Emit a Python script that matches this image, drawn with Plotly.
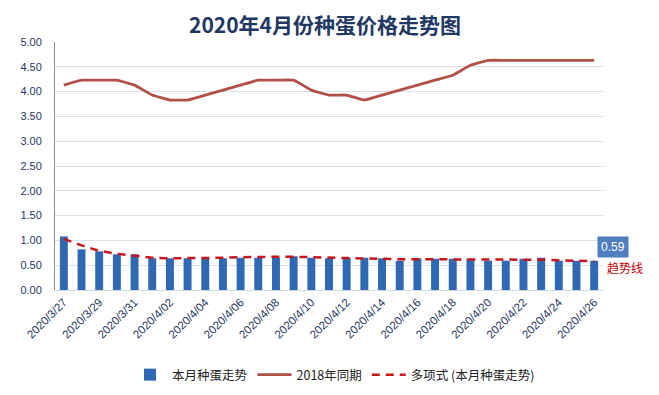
import plotly.graph_objects as go

dates = ["2020/3/27", "2020/3/28", "2020/3/29", "2020/3/30", "2020/3/31",
         "2020/4/01", "2020/4/02", "2020/4/03", "2020/4/04", "2020/4/05",
         "2020/4/06", "2020/4/07", "2020/4/08", "2020/4/09", "2020/4/10",
         "2020/4/11", "2020/4/12", "2020/4/13", "2020/4/14", "2020/4/15",
         "2020/4/16", "2020/4/17", "2020/4/18", "2020/4/19", "2020/4/20",
         "2020/4/21", "2020/4/22", "2020/4/23", "2020/4/24", "2020/4/25",
         "2020/4/26"]

price_2020 = [1.08, 0.82, 0.78, 0.72, 0.72, 0.64, 0.64, 0.64, 0.64, 0.64,
              0.65, 0.65, 0.65, 0.68, 0.65, 0.64, 0.65, 0.65, 0.64, 0.59,
              0.64, 0.63, 0.63, 0.63, 0.59, 0.59, 0.63, 0.65, 0.59, 0.59,
              0.59]

price_2018 = [4.13, 4.23, 4.23, 4.23, 4.13, 3.93, 3.83, 3.83, 3.93, 4.03,
              4.13, 4.23, 4.23, 4.23, 4.03, 3.93, 3.93, 3.83, 3.93, 4.03,
              4.13, 4.23, 4.33, 4.53, 4.63, 4.63, 4.63, 4.63, 4.63, 4.63,
              4.63]

trend = [1.03, 0.90, 0.79, 0.73, 0.69, 0.65, 0.64, 0.64, 0.64, 0.65,
         0.66, 0.67, 0.67, 0.67, 0.66, 0.65, 0.65, 0.64, 0.63, 0.62,
         0.62, 0.62, 0.62, 0.62, 0.62, 0.62, 0.61, 0.61, 0.60, 0.59,
         0.58]

tick_labels = dates[::2]
y_ticks = [0, 0.5, 1, 1.5, 2, 2.5, 3, 3.5, 4, 4.5, 5]

font_cn = "Noto Sans CJK SC, Noto Sans, sans-serif"
navy = "#1F3864"

W, H = 651, 387  # page body has an 8px margin

fig = go.Figure()
fig.add_trace(go.Bar(
    x=dates, y=price_2020, name="本月种蛋走势",
    marker=dict(color="#3069B3", line=dict(width=0)),
))
fig.add_trace(go.Scatter(
    x=dates, y=price_2018, name="2018年同期", mode="lines",
    line=dict(color="#B14F49", width=2.8, shape="spline", smoothing=0.3),
))
fig.add_trace(go.Scatter(
    x=dates, y=trend, name="多项式 (本月种蛋走势)", mode="lines",
    line=dict(color="#C8161D", width=2.5, dash="8px,6px"),
))

fig.add_annotation(
    x=dates[-1], y=price_2020[-1], text="0.59", showarrow=False,
    xshift=19, yshift=14, bgcolor="#4F7FBE",
    font=dict(color="white", size=12, family="Liberation Sans, Arial"),
    borderpad=3,
)
fig.add_annotation(
    x=dates[-1], y=price_2020[-1], text="趋势线", showarrow=False,
    xshift=31, yshift=-7, font=dict(color="#C00000", size=12, family=font_cn),
)

fig.update_layout(
    width=W, height=H,
    margin=dict(l=44, r=56, t=34, b=105),
    paper_bgcolor="white", plot_bgcolor="white",
    title=dict(text="<b>2020年4月份种蛋价格走势图</b>", x=317 / W, xanchor="center",
               y=1 - 18 / H, yanchor="middle",
               font=dict(size=21, color=navy, family=font_cn)),
    bargap=0.55,
    showlegend=True,
    legend=dict(orientation="h", xref="container", yref="container",
                x=326 / W, xanchor="center", y=1 - 367 / H, yanchor="middle",
                font=dict(size=12.5, color="#222222", family=font_cn),
                itemwidth=34, tracegroupgap=0),
    font=dict(family=font_cn),
)
fig.update_xaxes(
    type="category", range=[-0.5, len(dates) - 0.5], autorange=False,
    tickmode="array", tickvals=tick_labels, ticktext=tick_labels,
    tickangle=-45, tickfont=dict(size=11.5, color=navy, family="Liberation Sans, Arial"),
    showgrid=False, showline=True, linecolor="#D3D9E3", linewidth=1, ticks="",
)
fig.update_yaxes(
    range=[0, 5], autorange=False, tickmode="array", tickvals=y_ticks, tickformat=".2f",
    tickfont=dict(size=11, color=navy, family="Liberation Sans, Arial"),
    gridcolor="#D9DEE7", gridwidth=1, showline=True, linecolor="#8C8C8C",
    linewidth=1, zeroline=False, ticks="", ticklabelstandoff=10,
)

fig.write_html("out.html")
